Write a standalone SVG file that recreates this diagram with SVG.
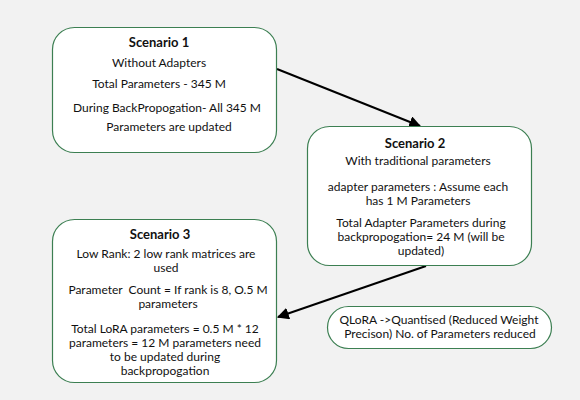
<svg xmlns="http://www.w3.org/2000/svg" width="580" height="400" viewBox="0 0 580 400">
<style>
.box{fill:#ffffff;stroke:#3c7f52;stroke-width:1.2}
text{font-family:Lato,"Noto Sans",sans-serif;font-size:12px;fill:#111111;text-anchor:middle}
.b{font-weight:bold;font-size:13px}
.edge{stroke:#000;stroke-width:2;fill:none;marker-end:url(#ah)}
</style>
<defs>
<marker id="ah" viewBox="0 0 10 10" refX="9" refY="5" markerWidth="6" markerHeight="6" orient="auto" markerUnits="strokeWidth">
<path d="M0,0 L10,5 L0,10 z" fill="#000"/>
</marker>
</defs>
<rect width="580" height="400" fill="#f2f2f2"/>
<g id="connectors">
<line class="edge" x1="277" y1="69" x2="420" y2="126"/>
<line class="edge" x1="426" y1="266" x2="278" y2="317"/>
</g>
<g id="scenario1">
<rect class="box" x="52.5" y="27.5" width="224" height="125" rx="22"/>
<text class="b" x="159" y="47">Scenario 1</text>
<text x="159" y="67">Without Adapters</text>
<text x="159" y="88">Total Parameters - 345 M</text>
<text x="167" y="112">During BackPropogation- All 345 M</text>
<text x="169" y="131">Parameters are updated</text>
</g>
<g id="scenario2">
<rect class="box" x="307.5" y="126.5" width="224" height="139" rx="22"/>
<text class="b" x="415" y="148">Scenario 2</text>
<text x="418" y="165">With traditional parameters</text>
<text x="418" y="191">adapter parameters : Assume each</text>
<text x="418" y="205">has 1 M Parameters</text>
<text x="421" y="227">Total Adapter Parameters during</text>
<text x="421" y="241">backpropogation= 24 M (will be</text>
<text x="421" y="255">updated)</text>
</g>
<g id="scenario3">
<rect class="box" x="52.5" y="219.5" width="224" height="163" rx="22"/>
<text class="b" x="160" y="239">Scenario 3</text>
<text x="166" y="258">Low Rank: 2 low rank matrices are</text>
<text x="166" y="272">used</text>
<text x="168" y="294" xml:space="preserve">Parameter  Count = If rank is 8, O.5 M</text>
<text x="168" y="308">parameters</text>
<text x="165" y="333">Total LoRA parameters = 0.5 M * 12</text>
<text x="165" y="347">parameters = 12 M parameters need</text>
<text x="165" y="361">to be updated during</text>
<text x="165" y="375">backpropogation</text>
</g>
<g id="qlora">
<rect class="box" x="327.5" y="306.5" width="224" height="42" rx="21"/>
<text x="439" y="324">QLoRA -&gt;Quantised (Reduced Weight</text>
<text x="440" y="338">Precison) No. of Parameters reduced</text>
</g>
</svg>
